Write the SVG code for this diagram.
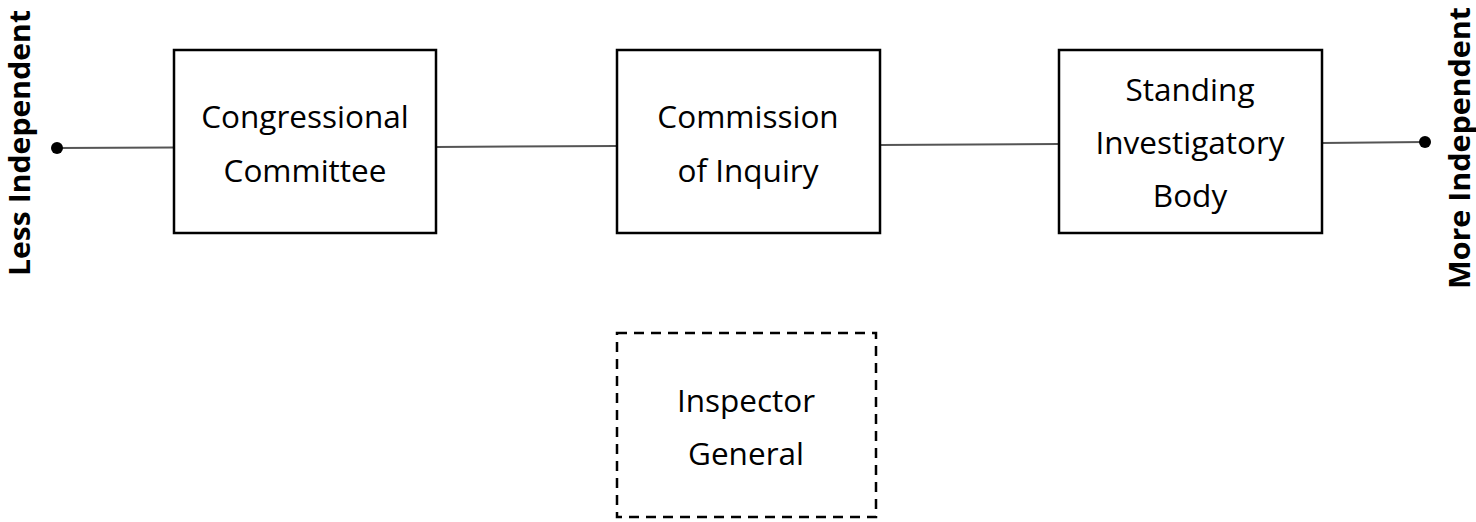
<svg xmlns="http://www.w3.org/2000/svg" width="1476" height="522" viewBox="0 0 1476 522">
<style>
.box{fill:#fff;stroke:#000;stroke-width:2.5}
.dash{fill:#fff;stroke:#000;stroke-width:2.5;stroke-dasharray:10 7}
.t{font-family:"Open Sans","Liberation Sans",sans-serif;font-size:31.5px;fill:#000;text-anchor:middle}
.side{font-family:"Open Sans","Liberation Sans",sans-serif;font-size:28px;font-weight:bold;fill:#000;text-anchor:start}
.ln{stroke:#555;stroke-width:2;fill:none}
</style>
<rect width="1476" height="522" fill="#fff"/>
<g id="connectors">
<line class="ln" x1="57" y1="148" x2="174" y2="147.5"/>
<line class="ln" x1="436" y1="147" x2="617" y2="146"/>
<line class="ln" x1="880" y1="145" x2="1059" y2="144"/>
<line class="ln" x1="1322" y1="143" x2="1425" y2="142"/>
<circle cx="57" cy="148" r="6" fill="#000"/>
<circle cx="1425" cy="142" r="6" fill="#000"/>
</g>
<g id="less"><text class="side" transform="translate(30,276) rotate(-90)" textLength="266" lengthAdjust="spacingAndGlyphs">Less Independent</text></g>
<g id="more"><text class="side" transform="translate(1470,289) rotate(-90)" textLength="282" lengthAdjust="spacingAndGlyphs">More Independent</text></g>
<g id="congressional">
<rect class="box" x="174" y="50" width="262" height="183"/>
<text class="t" x="305" y="128">Congressional</text>
<text class="t" x="305" y="182">Committee</text>
</g>
<g id="commission">
<rect class="box" x="617" y="50" width="263" height="183"/>
<text class="t" x="748" y="128">Commission</text>
<text class="t" x="748" y="182">of Inquiry</text>
</g>
<g id="standing">
<rect class="box" x="1059" y="50" width="263" height="183"/>
<text class="t" x="1190" y="101">Standing</text>
<text class="t" x="1190" y="154">Investigatory</text>
<text class="t" x="1190" y="207">Body</text>
</g>
<g id="inspector">
<rect class="dash" x="617" y="333" width="259" height="184"/>
<text class="t" x="746" y="412">Inspector</text>
<text class="t" x="746" y="465">General</text>
</g>
</svg>
